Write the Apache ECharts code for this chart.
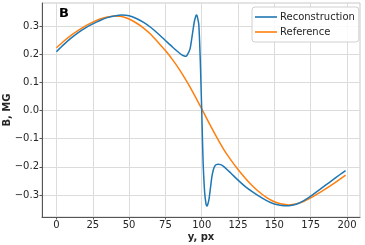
<!DOCTYPE html>
<html>
<head>
<meta charset="utf-8">
<script src="https://cdn.jsdelivr.net/npm/echarts@6/dist/echarts.min.js"></script>
<style>
html,body{margin:0;padding:0;background:#fff;}
#chart{width:365px;height:245px;}
</style>
</head>
<body>
<div id="chart"></div>
<script>
const xTicks = [0, 25, 50, 75, 100, 125, 150, 175, 200];
const yTicks = [-0.3, -0.2, -0.1, 0.0, 0.1, 0.2, 0.3];

const reconX = [0,5,10,15,20,25,30,35,40,45,50,55,60,65,70,75,80,84,86,88,89,90,92,94,95,96,96.5,97,98,99,99.5,100,100.5,101,102,103,103.6,104,105,106,107,108,109,110,111.4,113,115,120,125,130,135,140,145,150,155,160,165,170,175,180,185,190,195,199];
const reconY = [0.209,0.234,0.257,0.277,0.294,0.308,0.320,0.330,0.336,0.339,0.3365,0.327,0.313,0.295,0.273,0.249,0.225,0.207,0.199,0.194,0.193,0.197,0.220,0.286,0.318,0.337,0.339,0.333,0.305,0.180,0.090,0.000,-0.100,-0.190,-0.290,-0.333,-0.339,-0.336,-0.315,-0.275,-0.235,-0.210,-0.197,-0.192,-0.191,-0.192,-0.198,-0.222,-0.247,-0.270,-0.289,-0.306,-0.321,-0.332,-0.337,-0.338,-0.333,-0.321,-0.304,-0.285,-0.266,-0.247,-0.228,-0.213];

const refX = [0,5,10,15,20,25,30,35,40,45,50,55,60,65,70,75,80,85,90,95,100,105,110,115,120,125,130,135,140,145,150,155,160,165,170,175,180,185,190,195,199];
const refY = [0.223,0.246,0.267,0.285,0.301,0.314,0.325,0.332,0.336,0.334,0.325,0.311,0.293,0.270,0.242,0.213,0.180,0.143,0.101,0.055,0.006,-0.044,-0.092,-0.137,-0.175,-0.209,-0.240,-0.268,-0.291,-0.310,-0.324,-0.332,-0.335,-0.332,-0.323,-0.310,-0.295,-0.279,-0.262,-0.244,-0.229];

const seriesNames = ['Reconstruction', 'Reference'];
const panelLabel = 'B';
const xName = 'y, px';
const yName = 'B, MG';

const pair = (xs, ys) => xs.map((x, i) => [x, ys[i]]);
const FONT = 'DejaVu Sans';

const chart = echarts.init(document.getElementById('chart'), null, {renderer: 'canvas'});
chart.setOption({
  animation: false,
  backgroundColor: '#ffffff',
  grid: {left: 42, right: 5, top: 3, bottom: 28, containLabel: false, outerBoundsMode: 'none',
    show: true, borderColor: '#c8c8c8', borderWidth: 1, backgroundColor: 'transparent'},
  xAxis: {
    type: 'value', min: -9.95, max: 208.95,
    name: xName, nameLocation: 'middle', nameGap: 15, nameMoveOverlap: false,
    nameTextStyle: {fontFamily: FONT, fontSize: 10, fontWeight: 'bold', color: '#262626'},
    axisLine: {show: true, onZero: false, lineStyle: {color: '#555', width: 1}},
    axisTick: {show: true, length: 2.5, customValues: xTicks, lineStyle: {color: '#555'}},
    axisLabel: {customValues: xTicks, fontFamily: FONT, fontSize: 10, color: '#262626', margin: 3},
    splitLine: {show: true, lineStyle: {color: '#dcdcdc', width: 1}}
  },
  yAxis: {
    type: 'value', min: -0.378, max: 0.382,
    name: yName, nameLocation: 'middle', nameGap: 30, nameRotate: 90, nameMoveOverlap: false,
    nameTextStyle: {fontFamily: FONT, fontSize: 10, fontWeight: 'bold', color: '#262626'},
    axisLine: {show: true, onZero: false, lineStyle: {color: '#555', width: 1}},
    axisTick: {show: true, length: 2.5, customValues: yTicks, lineStyle: {color: '#555'}},
    axisLabel: {customValues: yTicks, fontFamily: FONT, fontSize: 10, color: '#262626', margin: 3,
      formatter: v => (v < 0 ? '\u2212' + Math.abs(v).toFixed(1) : v.toFixed(1))},
    splitLine: {show: true, lineStyle: {color: '#dcdcdc', width: 1}}
  },
  legend: {
    left: 252, top: 7,
    orient: 'vertical',
    data: seriesNames,
    icon: 'rect', itemWidth: 22, itemHeight: 1.6, itemGap: 3,
    padding: [4, 4, 4, 3],
    backgroundColor: 'rgba(255,255,255,0.85)',
    borderColor: '#d0d0d0', borderWidth: 1, borderRadius: 3,
    textStyle: {fontFamily: FONT, fontSize: 10, color: '#262626', lineHeight: 12, padding: [0, 0, 0, -2]}
  },
  graphic: [{
    type: 'text', left: 59, top: 7,
    style: {text: panelLabel, font: 'bold 13px "DejaVu Sans"', fill: '#000'}
  }],
  series: [
    {name: seriesNames[0], type: 'line', data: pair(reconX, reconY), showSymbol: false, symbol: 'none',
     smooth: 0.25, lineStyle: {color: '#1f77b4', width: 1.5}, itemStyle: {color: '#1f77b4'}, z: 3},
    {name: seriesNames[1], type: 'line', data: pair(refX, refY), showSymbol: false, symbol: 'none',
     smooth: 0.25, lineStyle: {color: '#ff7f0e', width: 1.5}, itemStyle: {color: '#ff7f0e'}, z: 2}
  ]
});
</script>
</body>
</html>
